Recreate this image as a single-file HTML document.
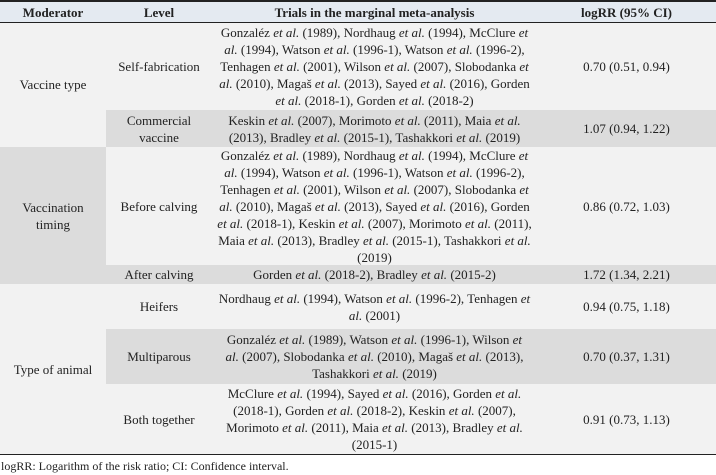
<!DOCTYPE html>
<html><head><meta charset="utf-8"><style>
body{margin:0;width:716px;height:475px;background:#fff;font-family:"Liberation Serif",serif;font-size:13px;color:#222;position:relative;overflow:hidden}
.c{position:absolute;display:flex;align-items:center;justify-content:center;text-align:center;line-height:17px;white-space:nowrap}
.c>span{display:block}
.l{background:#f2f2f2}.d{background:#dcdcdc}
i{font-style:italic}
.hl{position:absolute;left:0;width:716px;background:#222}
</style></head><body>
<div class="c" style="left:0;top:2px;width:716px;height:20px;background:#e4eaf1"></div>
<div class="c" style="left:0;top:2px;width:106px;height:20px;font-weight:bold"><span>Moderator</span></div>
<div class="c" style="left:106px;top:2px;width:106px;height:20px;font-weight:bold"><span>Level</span></div>
<div class="c" style="left:212px;top:2px;width:325px;height:20px;font-weight:bold"><span>Trials in the marginal meta-analysis</span></div>
<div class="c" style="left:537px;top:2px;width:179px;height:20px;font-weight:bold"><span>logRR (95% CI)</span></div>

<div class="c l" style="left:0;top:22px;width:106px;height:125px"><span>Vaccine type</span></div>
<div class="c d" style="left:0;top:147px;width:106px;height:137px"><span>Vaccination<br>timing</span></div>
<div class="c l" style="left:0;top:284px;width:106px;height:170px"><span>Type of animal</span></div>

<div class="c l" style="left:106px;top:22px;width:610px;height:88px"></div>
<div class="c d" style="left:106px;top:110px;width:610px;height:37px"></div>
<div class="c l" style="left:106px;top:147px;width:610px;height:118px"></div>
<div class="c d" style="left:106px;top:265px;width:610px;height:19px"></div>
<div class="c l" style="left:106px;top:284px;width:610px;height:45px"></div>
<div class="c d" style="left:106px;top:329px;width:610px;height:55px"></div>
<div class="c l" style="left:106px;top:384px;width:610px;height:70px"></div>

<div class="c" style="left:106px;top:22px;width:106px;height:88px"><span>Self-fabrication</span></div>
<div class="c" style="left:212px;top:22px;width:325px;height:88px"><span>Gonzaléz <i>et al.</i> (1989), Nordhaug <i>et al.</i> (1994), McClure <i>et</i><br><i>al.</i> (1994), Watson <i>et al.</i> (1996-1), Watson <i>et al.</i> (1996-2),<br>Tenhagen <i>et al.</i> (2001), Wilson <i>et al.</i> (2007), Slobodanka <i>et</i><br><i>al.</i> (2010), Magaš <i>et al.</i> (2013), Sayed <i>et al.</i> (2016), Gorden<br><i>et al.</i> (2018-1), Gorden <i>et al.</i> (2018-2)</span></div>
<div class="c" style="left:537px;top:22px;width:179px;height:88px"><span>0.70 (0.51, 0.94)</span></div>

<div class="c" style="left:106px;top:110px;width:106px;height:37px"><span>Commercial<br>vaccine</span></div>
<div class="c" style="left:212px;top:110px;width:325px;height:37px"><span>Keskin <i>et al.</i> (2007), Morimoto <i>et al.</i> (2011), Maia <i>et al.</i><br>(2013), Bradley <i>et al.</i> (2015-1), Tashakkori <i>et al.</i> (2019)</span></div>
<div class="c" style="left:537px;top:110px;width:179px;height:37px"><span>1.07 (0.94, 1.22)</span></div>

<div class="c" style="left:106px;top:147px;width:106px;height:118px"><span>Before calving</span></div>
<div class="c" style="left:212px;top:147px;width:325px;height:118px"><span>Gonzaléz <i>et al.</i> (1989), Nordhaug <i>et al.</i> (1994), McClure <i>et</i><br><i>al.</i> (1994), Watson <i>et al.</i> (1996-1), Watson <i>et al.</i> (1996-2),<br>Tenhagen <i>et al.</i> (2001), Wilson <i>et al.</i> (2007), Slobodanka <i>et</i><br><i>al.</i> (2010), Magaš <i>et al.</i> (2013), Sayed <i>et al.</i> (2016), Gorden<br><i>et al.</i> (2018-1), Keskin <i>et al.</i> (2007), Morimoto <i>et al.</i> (2011),<br>Maia <i>et al.</i> (2013), Bradley <i>et al.</i> (2015-1), Tashakkori <i>et al.</i><br>(2019)</span></div>
<div class="c" style="left:537px;top:147px;width:179px;height:118px"><span>0.86 (0.72, 1.03)</span></div>

<div class="c" style="left:106px;top:265px;width:106px;height:19px"><span>After calving</span></div>
<div class="c" style="left:212px;top:265px;width:325px;height:19px"><span>Gorden <i>et al.</i> (2018-2), Bradley <i>et al.</i> (2015-2)</span></div>
<div class="c" style="left:537px;top:265px;width:179px;height:19px"><span>1.72 (1.34, 2.21)</span></div>

<div class="c" style="left:106px;top:284px;width:106px;height:45px"><span>Heifers</span></div>
<div class="c" style="left:212px;top:284px;width:325px;height:45px"><span>Nordhaug <i>et al.</i> (1994), Watson <i>et al.</i> (1996-2), Tenhagen <i>et</i><br><i>al.</i> (2001)</span></div>
<div class="c" style="left:537px;top:284px;width:179px;height:45px"><span>0.94 (0.75, 1.18)</span></div>

<div class="c" style="left:106px;top:329px;width:106px;height:55px"><span>Multiparous</span></div>
<div class="c" style="left:212px;top:329px;width:325px;height:55px"><span>Gonzaléz <i>et al.</i> (1989), Watson <i>et al.</i> (1996-1), Wilson <i>et</i><br><i>al.</i> (2007), Slobodanka <i>et al.</i> (2010), Magaš <i>et al.</i> (2013),<br>Tashakkori <i>et al.</i> (2019)</span></div>
<div class="c" style="left:537px;top:329px;width:179px;height:55px"><span>0.70 (0.37, 1.31)</span></div>

<div class="c" style="left:106px;top:384px;width:106px;height:70px"><span>Both together</span></div>
<div class="c" style="left:212px;top:384px;width:325px;height:70px"><span>McClure <i>et al.</i> (1994), Sayed <i>et al.</i> (2016), Gorden <i>et al.</i><br>(2018-1), Gorden <i>et al.</i> (2018-2), Keskin <i>et al.</i> (2007),<br>Morimoto <i>et al.</i> (2011), Maia <i>et al.</i> (2013), Bradley <i>et al.</i><br>(2015-1)</span></div>
<div class="c" style="left:537px;top:384px;width:179px;height:70px"><span>0.91 (0.73, 1.13)</span></div>

<div class="hl" style="top:0;height:2px"></div>
<div class="hl" style="top:22px;height:1px"></div>
<div class="hl" style="top:454px;height:1px"></div>
<div style="position:absolute;left:1px;top:458px;font-size:12px;line-height:16px;white-space:nowrap">logRR: Logarithm of the risk ratio; CI: Confidence interval.</div>
</body></html>
